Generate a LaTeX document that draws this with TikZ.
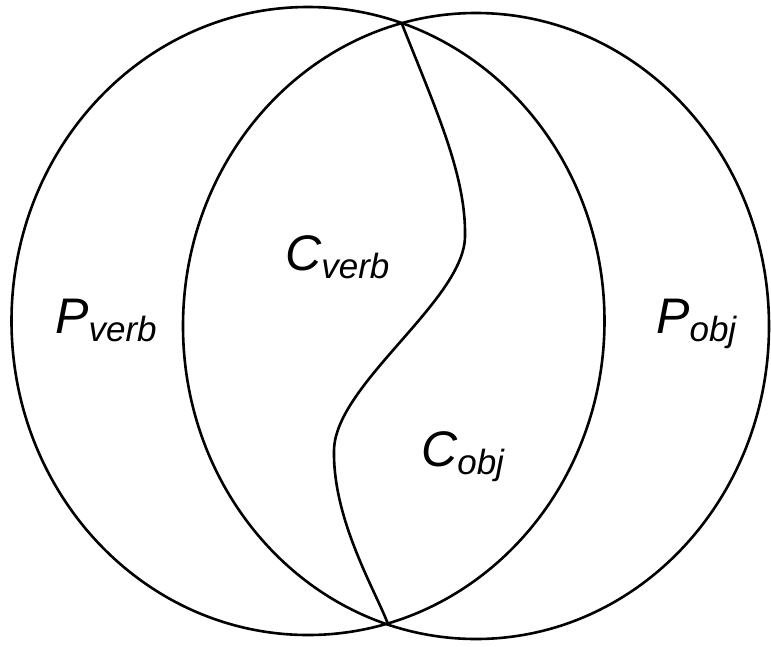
\documentclass[tikz,border=0pt]{standalone}
\usepackage{fontspec}
\setmainfont{Liberation Sans}
\tikzset{
  ring/.style={draw=black, line width=2.6pt},
  divider/.style={draw=black, line width=2.6pt},
  lbl/.style={anchor=base west, inner sep=0pt, font=\itshape}
}
\newcommand{\mainsz}{\fontsize{50}{52}\selectfont}
\newcommand{\subsz}{\fontsize{35}{37}\selectfont}
\begin{document}
\begin{tikzpicture}[x=1pt, y=-1pt]
  \useasboundingbox (0,0) rectangle (771,646);
  % two overlapping sets
  \draw[ring] (308,321) ellipse [x radius=296.5pt, y radius=314pt];
  \draw[ring] (476,326) ellipse [x radius=293pt, y radius=313pt];
  % intersection points
  \coordinate (top) at (402,24);
  \coordinate (bot) at (388,624);
  \coordinate (r) at (465,236);
  \coordinate (l) at (334,451);
  % S-shaped divider
  \draw[divider] (top) .. controls (436,110) and (466,175) .. (r)
                       .. controls (465,300) and (334,385) .. (l)
                       .. controls (333,520) and (375,590) .. (bot);
  % labels
  \node[lbl] (pverb) at (55,333) {\mainsz P\raisebox{-8pt}{\subsz verb}};
  \node[lbl] (cverb) at (285,270) {\mainsz C\raisebox{-8pt}{\subsz verb}};
  \node[lbl] (pobj)  at (656,333) {\mainsz P\raisebox{-8pt}{\subsz obj}};
  \node[lbl] (cobj)  at (421,466) {\mainsz C\raisebox{-8pt}{\subsz obj}};
\end{tikzpicture}
\end{document}
